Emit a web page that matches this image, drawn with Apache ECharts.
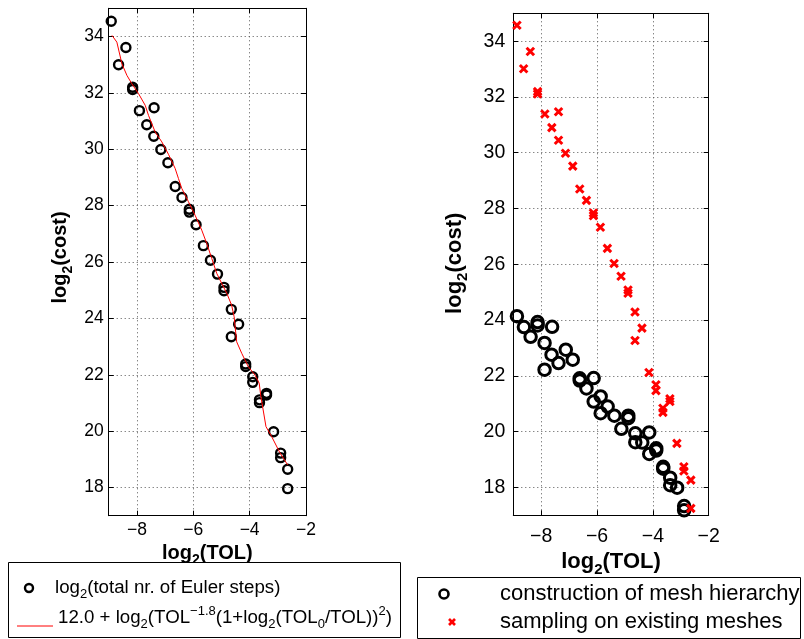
<!DOCTYPE html>
<html><head><meta charset="utf-8">
<script src="https://cdn.jsdelivr.net/npm/echarts@6/dist/echarts.min.js"></script>
<style>html,body{margin:0;padding:0;background:#fff}#c{width:804px;height:639px}</style>
</head><body><div id="c"></div>
<script>
// ---- data ----
const eulerTol  = [-8.91,-8.39,-8.65,-8.15,-8.15,-7.91,-7.39,-7.65,-7.40,-7.15,-6.90,-6.64,-6.40,-6.14,-6.14,-5.90,-5.64,-5.39,-5.14,-4.91,-4.91,-4.65,-4.39,-4.65,-4.14,-4.14,-3.89,-3.89,-3.65,-3.65,-3.40,-3.40,-3.15,-2.90,-2.90,-2.65,-2.65];
const eulerCost = [34.54,33.61,33.00,32.20,32.12,31.37,31.47,30.87,30.46,29.99,29.52,28.68,28.29,27.87,27.77,27.32,26.58,26.06,25.57,25.10,24.98,24.32,23.79,23.35,22.38,22.29,21.93,21.73,21.11,21.01,21.34,21.28,19.98,19.22,19.06,18.65,17.96];

const fitTol  = [-8.885,-8.71,-8.531,-8.354,-8.177,-7.941,-7.705,-7.587,-7.351,-7.115,-6.879,-6.643,-6.525,-6.407,-6.171,-5.935,-5.699,-5.522,-5.345,-5.168,-5.05,-4.81,-4.64,-4.55,-4.46,-4.28,-4.05,-3.81,-3.66,-3.60,-3.52,-3.42,-3.22,-2.93,-2.65];
const fitCost = [34.04,33.80,33.03,32.62,32.32,31.97,31.56,31.20,30.61,30.26,29.82,29.32,28.96,28.61,28.14,27.66,27.13,26.66,26.13,25.60,25.36,24.89,24.47,24.06,23.17,22.76,22.29,21.99,21.70,21.22,20.75,20.16,19.81,19.24,18.80];

const meshTol  = [-8.87,-8.62,-8.38,-8.13,-8.13,-7.88,-7.88,-7.61,-7.63,-7.38,-7.12,-6.87,-6.62,-6.62,-6.38,-6.12,-6.12,-5.87,-5.87,-5.62,-5.38,-5.13,-4.88,-4.88,-4.63,-4.63,-4.38,-4.13,-4.13,-3.88,-3.88,-3.63,-3.63,-3.38,-3.38,-3.13,-2.88,-2.88];
const meshCost = [24.14,23.75,23.40,23.93,23.81,23.18,22.22,23.76,22.76,22.46,22.94,22.58,21.91,21.83,21.55,21.92,21.08,21.26,20.66,20.90,20.57,20.10,20.57,20.48,19.94,19.62,19.61,19.97,19.20,19.40,19.32,18.74,18.67,18.35,18.08,17.99,17.33,17.18];

const sampTol  = [-8.87,-8.39,-8.63,-8.13,-8.13,-7.87,-7.38,-7.62,-7.38,-7.13,-6.87,-6.62,-6.38,-6.13,-6.13,-5.88,-5.63,-5.39,-5.14,-4.89,-4.89,-4.64,-4.39,-4.64,-4.14,-3.89,-3.89,-3.64,-3.64,-3.39,-3.39,-3.14,-2.89,-2.89,-2.64,-2.64];
const sampCost = [34.57,33.63,33.01,32.19,32.11,31.39,31.47,30.90,30.45,29.98,29.52,28.70,28.29,27.84,27.74,27.33,26.57,26.03,25.57,25.08,24.96,24.29,23.71,23.27,22.12,21.68,21.47,20.84,20.69,21.18,21.08,19.58,18.74,18.59,18.26,17.25];

const xRange = [-9, -2];
const yRange = [17, 35];

const legendLeftLabels = ['log|2|(total nr. of Euler steps)', '12.0 + log|2|(TOL^−1.8(1+log|2|(TOL|0|/TOL))^2)'];
const legendRightLabels = ['construction of mesh hierarchy', 'sampling on existing meshes'];

// ---- helpers ----
const pairs = (xs, ys) => xs.map((x, i) => [x, ys[i]]);
const FONT = 'Liberation Sans, Arial, Helvetica, sans-serif';
const minus = v => String(v).replace('-', '\u2212');

function nameRich(fs) {
  return {
    a: { fontFamily: FONT, fontWeight: 'bold', fontSize: fs, lineHeight: Math.round(fs * 1.4), color: '#000' },
    b: { fontFamily: FONT, fontWeight: 'bold', fontSize: Math.round(fs * 0.68), lineHeight: Math.round(fs * 0.68), verticalAlign: 'bottom', color: '#000' }
  };
}

function axes(grid, o) {
  const line = { show: true, onZero: false, lineStyle: { color: '#000', width: 1 } };
  const tick = { show: true, inside: true, length: 5, lineStyle: { color: '#000', width: 1 } };
  const split = { show: true, lineStyle: { color: '#555', type: [1, 3], width: 1 } };
  const xs = [
    { gridIndex: grid, type: 'value', min: xRange[0], max: xRange[1], splitNumber: 4, position: 'bottom',
      axisLine: line, axisTick: tick, splitLine: split,
      axisLabel: { showMinLabel: false, showMaxLabel: true, margin: o.xMargin, fontSize: o.tickFs, fontFamily: FONT, color: '#000', formatter: minus },
      name: '{a|log}{b|2}{a|(TOL)}', nameLocation: 'middle', nameGap: o.xNameGap,
      nameTextStyle: { rich: nameRich(o.nameFs) } },
    { gridIndex: grid, type: 'value', min: xRange[0], max: xRange[1], splitNumber: 4, position: 'top',
      axisLine: line, axisTick: tick, splitLine: { show: false }, axisLabel: { show: false } }
  ];
  const ys = [
    { gridIndex: grid, type: 'value', min: yRange[0], max: yRange[1], splitNumber: 9, position: 'left',
      axisLine: line, axisTick: tick, splitLine: split,
      axisLabel: { showMinLabel: false, showMaxLabel: false, margin: o.yMargin, fontSize: o.tickFs, fontFamily: FONT, color: '#000' },
      name: '{a|log}{b|2}{a|(cost)}', nameLocation: 'middle', nameGap: o.yNameGap,
      nameTextStyle: { rich: nameRich(o.nameFs), padding: o.yNamePad } },
    { gridIndex: grid, type: 'value', min: yRange[0], max: yRange[1], splitNumber: 9, position: 'right',
      axisLine: line, axisTick: tick, splitLine: { show: false }, axisLabel: { show: false } }
  ];
  return { xs, ys };
}

const A = axes(0, { tickFs: 17.5, nameFs: 20, xMargin: 5, yMargin: 5, xNameGap: 17, yNameGap: 34, yNamePad: [0, 0, 0, 9] });
const B = axes(1, { tickFs: 19.5, nameFs: 22, xMargin: 11, yMargin: 8, xNameGap: 23, yNameGap: 43, yNamePad: [0, 0, 0, 2] });

// legend text -> zrender rich string ('|x|' = subscript, '^x' = superscript up to next '(' or ')')
function toRich(s) {
  let out = '', i = 0, buf = '';
  const flush = () => { if (buf) { out += '{n|' + buf + '}'; buf = ''; } };
  while (i < s.length) {
    const c = s[i];
    if (c === '|') { flush(); const j = s.indexOf('|', i + 1); out += '{s|' + s.slice(i + 1, j) + '}'; i = j + 1; }
    else if (c === '^') { flush(); let j = i + 1; while (j < s.length && s[j] !== '(' && s[j] !== ')') j++; out += '{p|' + s.slice(i + 1, j) + '}'; i = j; }
    else { buf += c; i++; }
  }
  flush();
  return out;
}
const legRich = fs => ({
  n: { fontFamily: FONT, fontSize: fs, lineHeight: Math.round(fs * 1.4), fill: '#000' },
  s: { fontFamily: FONT, fontSize: Math.round(fs * 0.7), lineHeight: Math.round(fs * 0.7), verticalAlign: 'bottom', fill: '#000' },
  p: { fontFamily: FONT, fontSize: Math.round(fs * 0.7), lineHeight: Math.round(fs * 0.7), verticalAlign: 'top', fill: '#000' }
});

const X_PATH = 'path://M0,0L10,10M10,0L0,10';

const graphic = [
  // left legend
  { type: 'rect', left: 8, top: 562, shape: { width: 392, height: 75 }, style: { fill: '#fff', stroke: '#000', lineWidth: 1 }, z: 10 },
  { type: 'circle', x: 29, y: 588, shape: { r: 4 }, style: { fill: 'none', stroke: '#000', lineWidth: 2.4 }, z: 11 },
  { type: 'text', x: 55, y: 588, style: { text: toRich(legendLeftLabels[0]), rich: legRich(18.7), verticalAlign: 'middle', textAlign: 'left' }, z: 11 },
  { type: 'line', shape: { x1: 17, y1: 626, x2: 53, y2: 626 }, style: { stroke: '#f00', lineWidth: 1 }, z: 11 },
  { type: 'text', x: 58, y: 618, style: { text: toRich(legendLeftLabels[1]), rich: legRich(18.7), verticalAlign: 'middle', textAlign: 'left' }, z: 11 },
  // right legend
  { type: 'rect', left: 417, top: 577, shape: { width: 383, height: 61 }, style: { fill: '#fff', stroke: '#000', lineWidth: 1 }, z: 10 },
  { type: 'circle', x: 444, y: 594, shape: { r: 4.5 }, style: { fill: 'none', stroke: '#000', lineWidth: 2.6 }, z: 11 },
  { type: 'text', x: 500, y: 594, style: { text: legendRightLabels[0], font: '22px ' + FONT, fill: '#000', verticalAlign: 'middle', textAlign: 'left' }, z: 11 },
  { type: 'line', shape: { x1: 449, y1: 619, x2: 455, y2: 625 }, style: { stroke: '#f00', lineWidth: 2.6 }, z: 11 },
  { type: 'line', shape: { x1: 455, y1: 619, x2: 449, y2: 625 }, style: { stroke: '#f00', lineWidth: 2.6 }, z: 11 },
  { type: 'text', x: 500, y: 622, style: { text: legendRightLabels[1], font: '22px ' + FONT, fill: '#000', verticalAlign: 'middle', textAlign: 'left' }, z: 11 }
];

const option = {
  animation: false,
  backgroundColor: '#fff',
  textStyle: { fontFamily: FONT },
  grid: [
    { left: 108.7, top: 8.3, width: 197.3, height: 507.4, outerBoundsMode: 'none', containLabel: false },
    { left: 513.3, top: 13.3, width: 195.4, height: 502, outerBoundsMode: 'none', containLabel: false }
  ],
  xAxis: [...A.xs, ...B.xs],
  yAxis: [...A.ys, ...B.ys],
  graphic,
  series: [
    { type: 'line', name: 'fit', xAxisIndex: 0, yAxisIndex: 0, data: pairs(fitTol, fitCost),
      symbol: 'none', showSymbol: false, lineStyle: { color: '#f00', width: 1 }, itemStyle: { color: '#f00' }, z: 3 },
    { type: 'scatter', name: 'euler', xAxisIndex: 0, yAxisIndex: 0, data: pairs(eulerTol, eulerCost),
      symbol: 'circle', symbolSize: 9, itemStyle: { color: 'none', borderColor: '#000', borderWidth: 2.4, opacity: 1 }, z: 2 },
    { type: 'scatter', name: 'mesh', xAxisIndex: 2, yAxisIndex: 2, data: pairs(meshTol, meshCost),
      symbol: 'circle', symbolSize: 11.5, itemStyle: { color: 'none', borderColor: '#000', borderWidth: 3, opacity: 1 }, z: 2 },
    { type: 'scatter', name: 'samp', xAxisIndex: 2, yAxisIndex: 2, data: pairs(sampTol, sampCost),
      symbol: X_PATH, symbolSize: 7.5, itemStyle: { color: 'none', borderColor: '#f00', borderWidth: 3, opacity: 1 }, z: 3 }
  ]
};

const chart = echarts.init(document.getElementById('c'), null, { renderer: 'canvas' });
chart.setOption(option);
</script>
</body></html>
